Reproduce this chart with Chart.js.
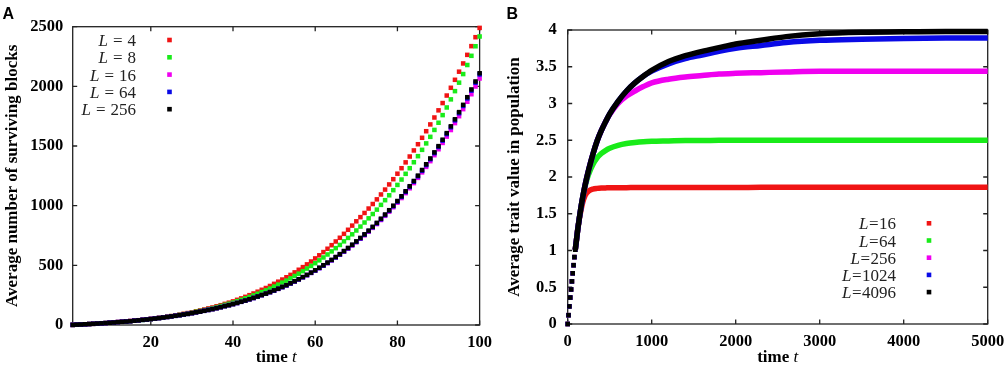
<!DOCTYPE html>
<html>
<head>
<meta charset="utf-8">
<script src="https://cdn.jsdelivr.net/npm/chart.js@4.4.0/dist/chart.umd.min.js"></script>
<style>
  body { margin: 0; width: 1004px; height: 366px; overflow: hidden; background: #fff; }
  canvas { position: absolute; top: 0; }
  #chartA { left: 0; }
  #chartB { left: 500px; }
</style>
</head>
<body>
<canvas id="chartA" width="500" height="366"></canvas>
<canvas id="chartB" width="540" height="366"></canvas>
<script>
// ---- panel A: surviving blocks vs time ----
const timeA = [1,2,3,4,5,6,7,8,9,10,11,12,13,14,15,16,17,18,19,20,
  21,22,23,24,25,26,27,28,29,30,31,32,33,34,35,36,37,38,39,40,
  41,42,43,44,45,46,47,48,49,50,51,52,53,54,55,56,57,58,59,60,
  61,62,63,64,65,66,67,68,69,70,71,72,73,74,75,76,77,78,79,80,
  81,82,83,84,85,86,87,88,89,90,91,92,93,94,95,96,97,98,99,100];
const xTicksA = [20, 40, 60, 80, 100];
const lengthsA = [4, 8, 16, 64, 256];

const blocksL4 = [1,3,4,6,8,10,12,14,16,19,
  21,24,27,29,33,36,40,44,47,51,
  55,60,65,70,75,81,87,94,100,107,
  115,122,130,139,147,157,166,177,187,198,
  211,223,236,250,264,279,295,310,327,345,
  363,381,400,420,441,463,485,508,532,558,
  584,611,639,669,700,731,764,798,833,869,
  904,939,976,1014,1053,1094,1135,1178,1222,1268,
  1314,1363,1412,1463,1515,1569,1624,1681,1739,1799,
  1860,1923,1988,2055,2123,2192,2264,2337,2412,2490];
const blocksL8 = [1,3,4,6,8,10,12,14,16,19,
  21,24,27,29,32,36,39,43,46,50,
  55,59,64,69,74,79,85,91,97,103,
  111,118,125,133,141,150,159,169,178,188,
  200,211,223,235,248,262,276,290,305,322,
  338,355,372,391,411,430,451,473,495,518,
  542,566,591,617,644,671,701,730,760,792,
  825,859,894,930,967,1007,1046,1087,1130,1174,
  1219,1267,1314,1364,1415,1468,1522,1577,1635,1695,
  1759,1823,1891,1960,2031,2103,2179,2256,2336,2418];
const blocksL16 = [1,3,4,6,8,10,12,14,16,20,
  22,25,28,30,33,37,40,44,47,51,
  55,59,64,68,73,78,83,89,94,100,
  107,113,120,127,134,142,150,159,167,176,
  185,195,205,216,227,239,251,263,276,289,
  303,318,333,349,365,382,400,418,437,456,
  477,498,519,542,566,589,615,640,667,694,
  723,752,782,814,846,880,915,950,987,1025,
  1064,1105,1146,1189,1233,1279,1325,1373,1423,1473,
  1526,1579,1634,1692,1750,1809,1871,1934,1999,2066];
const blocksL64 = [1,3,4,6,8,10,12,14,16,19,
  21,24,27,29,32,36,39,43,46,50,
  54,58,63,67,72,77,82,88,93,99,
  106,112,119,126,133,141,149,158,166,175,
  184,194,204,215,226,238,250,262,275,288,
  303,317,332,348,365,382,400,418,437,457,
  477,498,520,543,567,591,617,643,670,697,
  726,756,787,819,852,886,921,957,995,1034,
  1074,1115,1157,1201,1246,1292,1340,1389,1440,1492,
  1545,1600,1657,1715,1775,1836,1899,1964,2031,2100];
const blocksL256 = [1,3,4,6,8,10,12,14,16,19,
  21,24,27,29,32,36,39,43,46,50,
  54,58,63,67,72,77,82,88,93,99,
  106,112,119,126,133,141,149,158,166,175,
  185,195,205,216,227,239,251,263,276,290,
  304,319,334,350,367,384,402,420,439,459,
  480,501,523,546,570,594,620,646,673,701,
  730,760,791,823,856,891,926,962,1000,1039,
  1079,1121,1163,1207,1252,1299,1347,1396,1447,1499,
  1553,1608,1665,1724,1784,1845,1909,1974,2041,2110];

// ---- panel B: trait value vs time ----
const timeB = [0,10,20,30,40,50,60,70,80,90,100,120,140,160,180,200,225,250,300,350,
  400,450,500,600,700,800,900,1000,1200,1400,1600,1800,2000,2300,2600,3000,3500,4000,4500,5000];
const lengthsB = [16, 64, 256, 1024, 4096];

const traitL16 = [0,0.12,0.24,0.36,0.47,0.58,0.69,0.80,0.91,1.01,1.10,1.29,1.44,1.56,1.66,1.73,1.78,1.81,1.835,1.845,
  1.85,1.852,1.854,1.855,1.855,1.856,1.856,1.857,1.857,1.857,1.858,1.858,1.858,1.859,1.859,1.86,1.86,1.86,1.86,1.86];
const traitL64 = [0,0.12,0.24,0.36,0.47,0.58,0.69,0.80,0.91,1.01,1.10,1.29,1.45,1.60,1.73,1.84,1.95,2.04,2.17,2.26,
  2.32,2.36,2.39,2.43,2.455,2.47,2.48,2.485,2.49,2.495,2.495,2.5,2.5,2.5,2.5,2.5,2.5,2.5,2.5,2.5];
const traitL256 = [0,0.12,0.24,0.36,0.47,0.58,0.69,0.80,0.91,1.01,1.10,1.29,1.45,1.60,1.73,1.85,1.98,2.10,2.31,2.49,
  2.63,2.75,2.85,3.00,3.10,3.17,3.23,3.28,3.33,3.36,3.38,3.40,3.41,3.42,3.43,3.44,3.44,3.44,3.44,3.44];
const traitL1024 = [0,0.12,0.24,0.36,0.47,0.58,0.69,0.80,0.91,1.01,1.10,1.29,1.45,1.60,1.73,1.85,1.98,2.10,2.31,2.49,
  2.63,2.75,2.86,3.03,3.17,3.28,3.37,3.44,3.54,3.61,3.66,3.71,3.75,3.79,3.83,3.86,3.875,3.885,3.89,3.89];
const traitL4096 = [0,0.12,0.24,0.36,0.47,0.58,0.69,0.80,0.91,1.01,1.10,1.29,1.45,1.60,1.73,1.85,1.98,2.10,2.31,2.49,
  2.63,2.75,2.86,3.03,3.17,3.28,3.37,3.45,3.57,3.65,3.71,3.76,3.81,3.86,3.91,3.95,3.97,3.975,3.98,3.98];

const colors = ['rgb(240,20,20)', 'rgb(25,235,25)', 'rgb(240,0,240)', 'rgb(10,10,230)', '#000'];
const SERIF = '"Liberation Serif", "Times New Roman", serif';
const tickFont = { family: SERIF, size: 16.5, weight: 'bold' };

// box round the plot and gnuplot-style inward ticks on all four sides
const framePlugin = {
  id: 'frame',
  beforeDatasetsDraw(chart) {
    const { ctx, chartArea: a, scales } = chart;
    const len = 4.5;
    ctx.save();
    ctx.strokeStyle = '#222';
    ctx.lineWidth = 1.3;
    ctx.strokeRect(a.left, a.top, a.right - a.left, a.bottom - a.top);
    ctx.beginPath();
    scales.x.ticks.forEach(t => {
      const px = scales.x.getPixelForValue(t.value);
      ctx.moveTo(px, a.bottom); ctx.lineTo(px, a.bottom - len);
      ctx.moveTo(px, a.top); ctx.lineTo(px, a.top + len);
    });
    scales.y.ticks.forEach(t => {
      const py = scales.y.getPixelForValue(t.value);
      ctx.moveTo(a.left, py); ctx.lineTo(a.left + len, py);
      ctx.moveTo(a.right, py); ctx.lineTo(a.right - len, py);
    });
    ctx.stroke();
    ctx.restore();
  }
};

// panel letter, axis titles and the key
const labelsPlugin = {
  id: 'labels',
  afterDraw(chart, args, o) {
    const ctx = chart.ctx;
    const a = chart.chartArea;
    ctx.save();
    ctx.fillStyle = '#000';
    ctx.font = 'bold 16px "Liberation Sans", Arial, sans-serif';
    ctx.textAlign = 'left';
    ctx.textBaseline = 'alphabetic';
    ctx.fillText(o.panel, o.panelX, 18.5);

    ctx.save();
    ctx.font = 'bold 17px ' + SERIF;
    ctx.translate(o.yTitleX, (a.top + a.bottom) / 2);
    ctx.rotate(-Math.PI / 2);
    ctx.textAlign = 'center';
    ctx.textBaseline = 'middle';
    ctx.fillText(o.yTitle, 0, 0);
    ctx.restore();

    // "time t" with an italic t
    ctx.font = 'bold 17px ' + SERIF;
    const w1 = ctx.measureText('time ').width;
    ctx.font = 'italic 17px ' + SERIF;
    const w2 = ctx.measureText('t').width;
    let x0 = (a.left + a.right) / 2 - (w1 + w2) / 2;
    ctx.font = 'bold 17px ' + SERIF;
    ctx.fillText('time ', x0, 362);
    ctx.font = 'italic 17px ' + SERIF;
    ctx.fillText('t', x0 + w1, 362);

    // key: right-aligned "L = n" then a square marker
    chart.data.datasets.forEach((ds, i) => {
      const y = o.keyY + i * o.keyDy;
      const num = String(o.keyValues[i]);
      ctx.font = 'italic 17px ' + SERIF;
      const wL = ctx.measureText('L').width;
      ctx.font = '17px ' + SERIF;
      const wEq = ctx.measureText('=').width;
      const wN = ctx.measureText(num).width;
      let x = o.keyRight - (wL + o.keyGap * 2 + wEq + wN);
      ctx.fillStyle = '#222';
      ctx.font = 'italic 17px ' + SERIF;
      ctx.fillText('L', x, y + 6);
      x += wL + o.keyGap;
      ctx.font = '17px ' + SERIF;
      ctx.fillText('=', x, y + 6);
      x += wEq + o.keyGap;
      ctx.fillText(num, x, y + 6);
      ctx.fillStyle = ds.backgroundColor;
      ctx.fillRect(o.keyMark - 2.3, y - 2.3, 4.6, 4.6);
    });
    ctx.restore();
  }
};

const drawOrder = [4, 3, 2, 1, 0];

const seriesA = [blocksL4, blocksL8, blocksL16, blocksL64, blocksL256];
new Chart(document.getElementById('chartA'), {
  type: 'scatter',
  data: {
    datasets: seriesA.map((vals, i) => ({
      label: 'L = ' + lengthsA[i],
      data: vals.map((v, k) => ({ x: timeA[k], y: v })),
      backgroundColor: colors[i],
      pointStyle: 'rect',
      pointRadius: 3.2,
      pointBorderWidth: 0,
      order: drawOrder[i],
      clip: false
    }))
  },
  options: {
    responsive: false,
    animation: false,
    devicePixelRatio: 1,
    layout: { padding: { top: 26.7, right: 13.3, left: 0, bottom: 0 } },
    plugins: {
      legend: { display: false },
      tooltip: { enabled: false },
      labels: {
        panel: 'A', panelX: 2.5, yTitle: 'Average number of surviving blocks', yTitleX: 13,
        keyValues: lengthsA, keyRight: 136, keyMark: 169.5, keyY: 40, keyDy: 17.3, keyGap: 5
      }
    },
    scales: {
      x: {
        type: 'linear', min: 1, max: 100,
        grid: { display: false, drawTicks: false }, border: { display: false },
        afterBuildTicks: s => { s.ticks = xTicksA.map(v => ({ value: v })); },
        afterFit: s => { s.height = 41; },
        ticks: { font: tickFont, color: '#000', padding: 8, maxRotation: 0, autoSkip: false, callback: v => String(v) }
      },
      y: {
        min: 0, max: 2500,
        grid: { display: false, drawTicks: false }, border: { display: false },
        afterFit: s => { s.width = 72.7; },
        ticks: { stepSize: 500, font: tickFont, color: '#000', padding: 9.4, callback: v => String(v) }
      }
    }
  },
  plugins: [framePlugin, labelsPlugin]
});

const seriesB = [traitL16, traitL64, traitL256, traitL1024, traitL4096];
new Chart(document.getElementById('chartB'), {
  type: 'scatter',
  data: {
    datasets: seriesB.map((vals, i) => ({
      label: 'L=' + lengthsB[i],
      data: vals.map((v, k) => ({ x: timeB[k], y: v })),
      showLine: true,
      borderColor: colors[i],
      backgroundColor: colors[i],
      borderWidth: 5.5,
      cubicInterpolationMode: 'monotone',
      // early samples show as separate squares, the rest as a solid band
      segment: { borderColor: c => c.p0.parsed.x < 90 ? 'rgba(0,0,0,0)' : undefined },
      pointStyle: 'rect',
      pointRadius: c => (c.raw && c.raw.x <= 90) ? 3.2 : 0,
      pointBorderWidth: 0,
      order: drawOrder[i],
      clip: false
    }))
  },
  options: {
    responsive: false,
    animation: false,
    devicePixelRatio: 1,
    layout: { padding: { top: 30, right: 52.3, left: 0, bottom: 0 } },
    plugins: {
      legend: { display: false },
      tooltip: { enabled: false },
      labels: {
        panel: 'B', panelX: 6.5, yTitle: 'Average trait value in population', yTitleX: 15,
        keyValues: lengthsB, keyRight: 396, keyMark: 429, keyY: 223.3, keyDy: 17.2, keyGap: 0.5
      }
    },
    scales: {
      x: {
        type: 'linear', min: 0, max: 5000,
        grid: { display: false, drawTicks: false }, border: { display: false },
        afterFit: s => { s.height = 42; },
        ticks: { stepSize: 1000, font: tickFont, color: '#000', padding: 8, maxRotation: 0, autoSkip: false, callback: v => String(v) }
      },
      y: {
        min: 0, max: 4,
        grid: { display: false, drawTicks: false }, border: { display: false },
        afterFit: s => { s.width = 67.7; },
        ticks: { stepSize: 0.5, font: tickFont, color: '#000', padding: 11, callback: v => String(v) }
      }
    }
  },
  plugins: [framePlugin, labelsPlugin]
});
</script>
</body>
</html>
